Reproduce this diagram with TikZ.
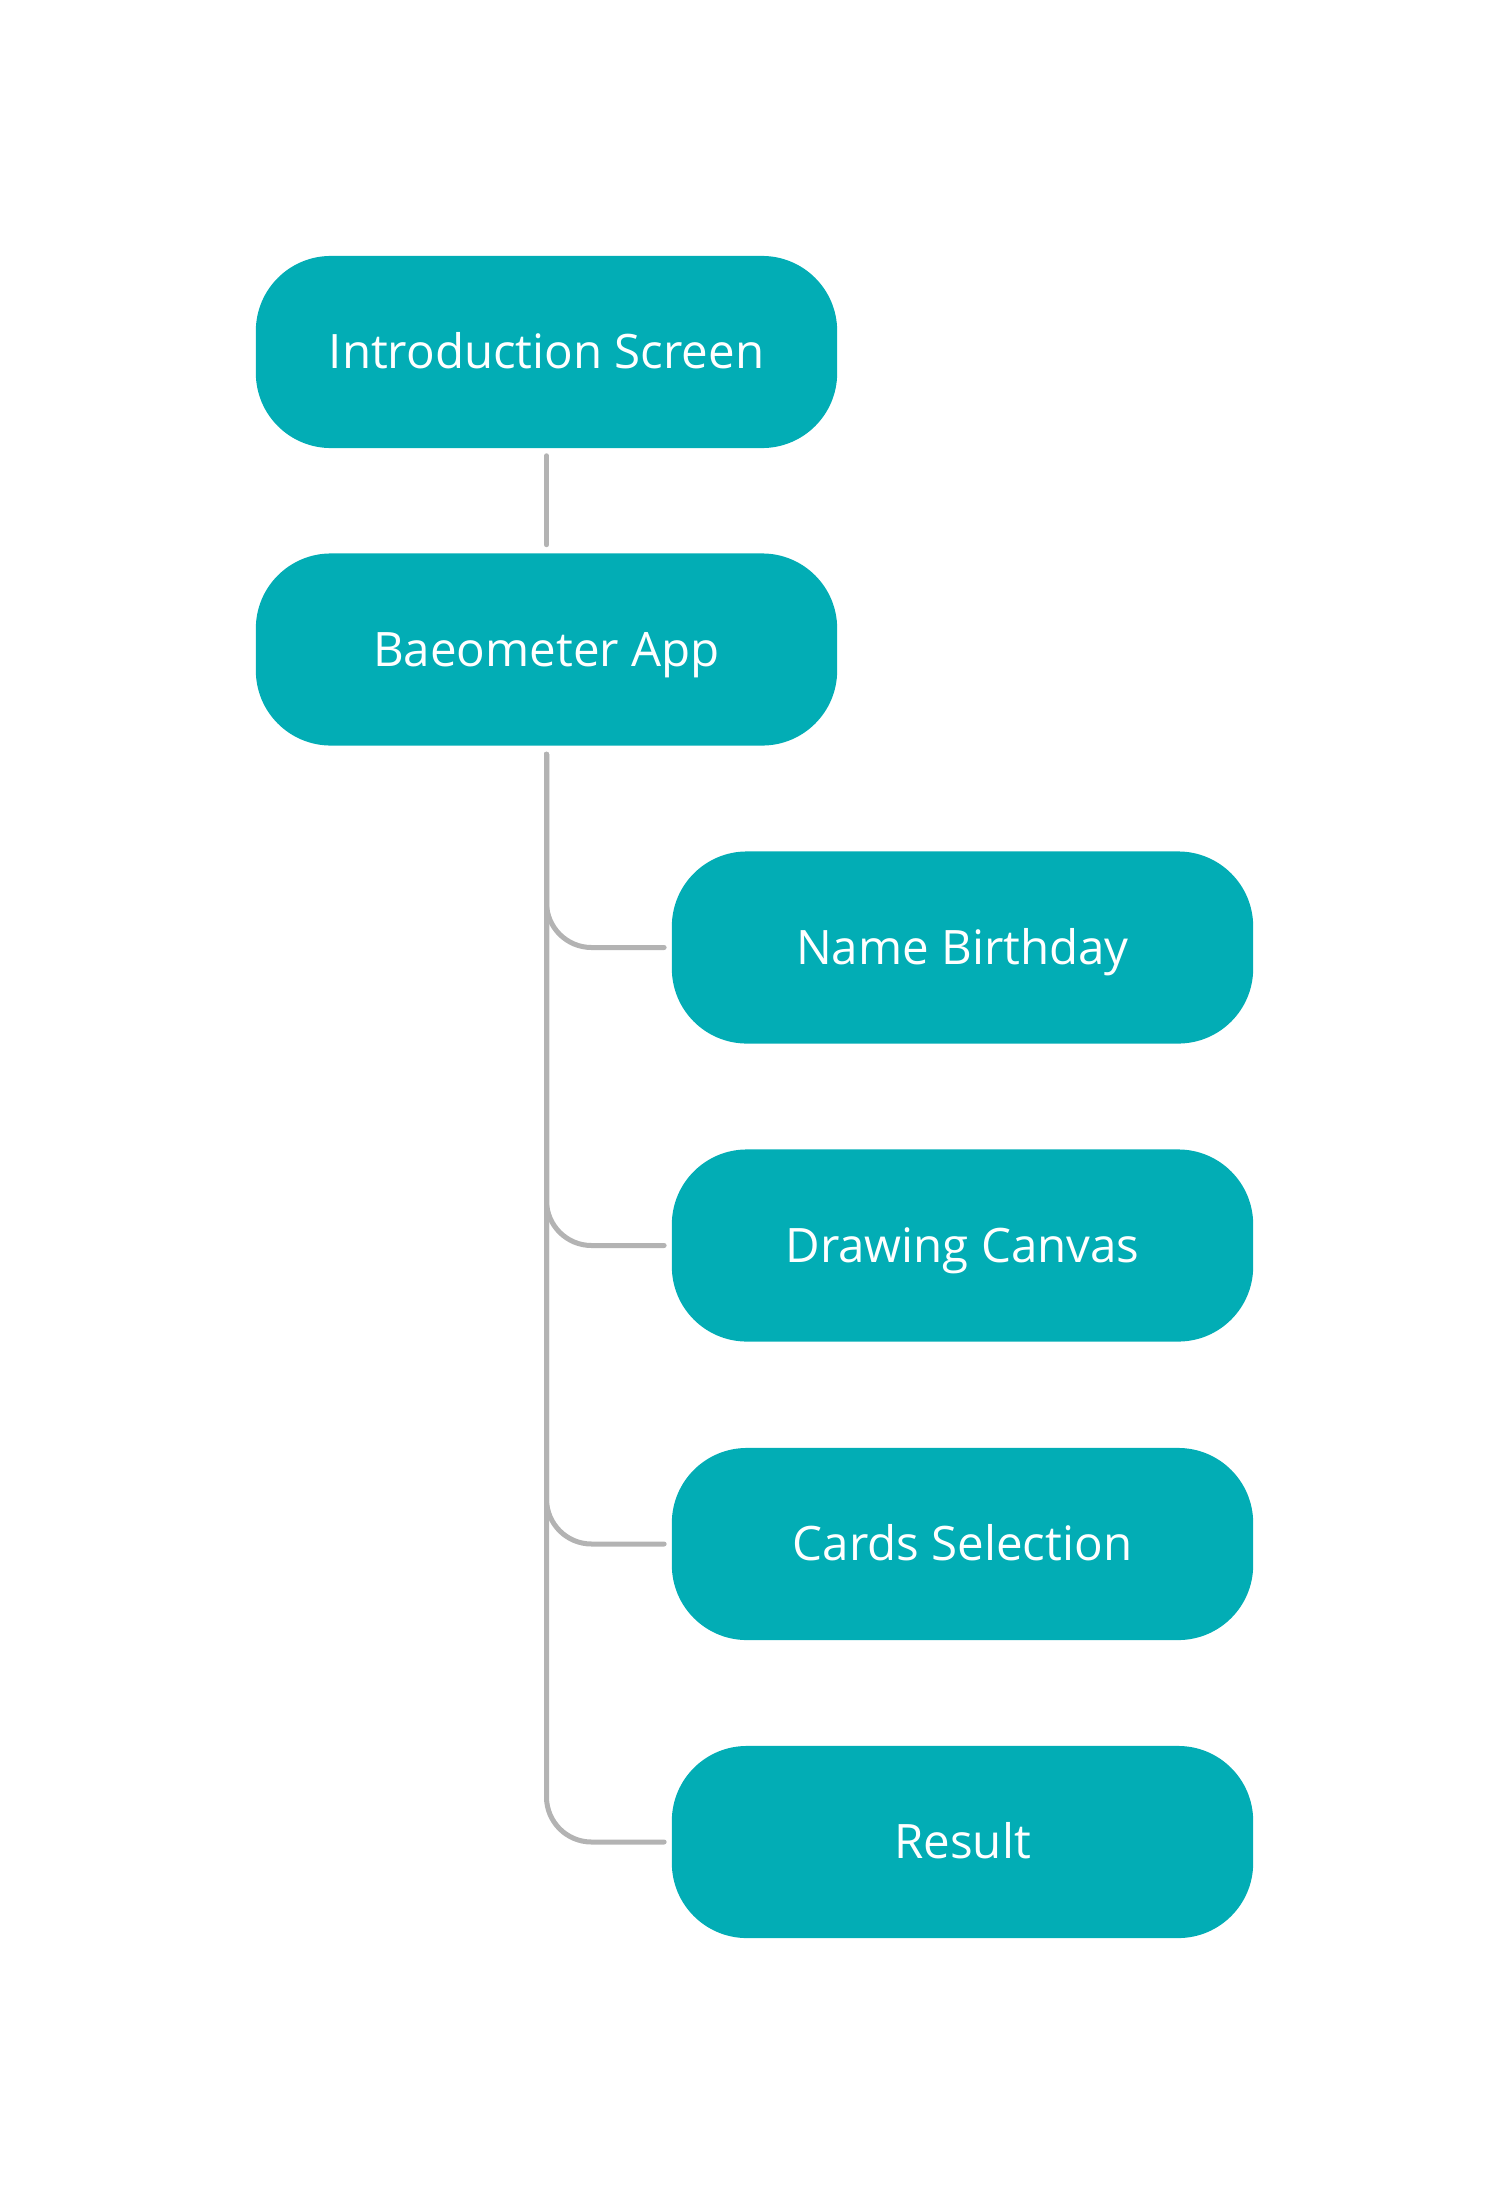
\documentclass[tikz,border=0pt]{standalone}
\usepackage{fontspec}
\setmainfont{Open Sans}

\definecolor{boxteal}{RGB}{2,173,181}
\definecolor{linkgray}{RGB}{179,179,179}

\begin{document}
\begin{tikzpicture}[x=0.01cm, y=-0.01cm,
        screen/.style={fill=boxteal, text=white, rounded corners=0.75cm,
            minimum width=5.81cm, minimum height=1.92cm, inner sep=0pt,
            text height=9.6pt, text depth=0pt,
            font=\fontsize{13.5}{16}\selectfont},
        link/.style={draw=linkgray, line width=0.05cm, line cap=round}]
            \useasboundingbox (0, 0) rectangle (1510, 2194);

            \node [screen] (intro) at (546.5, 352) {Introduction Screen};
            \node [screen] (app) at (546.5, 649.5) {Baeometer App};

            \node [screen] (name) at (962.5, 947.5) {Name Birthday};
            \node [screen] (canvas) at (962.5, 1245.5) {Drawing Canvas};
            \node [screen] (cards) at (962.5, 1544) {Cards Selection};
            \node [screen] (result) at (962.5, 1842) {Result};

            \draw [link] ([yshift=-0.07cm]intro.south) -- ([yshift=0.08cm]app.south |- app.north);

            \foreach \b in {name, canvas, cards, result}
                {
                    \draw [link, rounded corners=0.45cm] ([yshift=-0.08cm]app.south) |- ([xshift=-0.07cm]\b.west);
                }
    \end{tikzpicture}
\end{document}
